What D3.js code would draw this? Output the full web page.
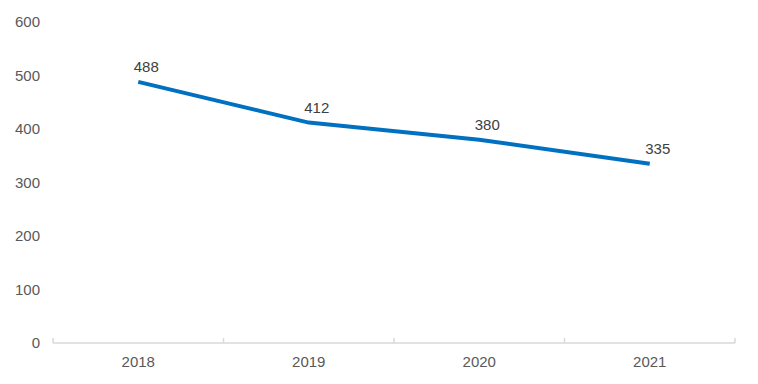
<html lang="en">
<head>
<title>Line chart</title>
<script src="https://d3js.org/d3.v7.min.js" charset="utf-8"></script>
<style>
  body { margin: 0; background: #fff; font-family: "Liberation Sans", Arial, sans-serif; }
  .tick text { fill: #595959; font-size: 15px; }
  .label { fill: #404040; font-size: 15px; }
</style>
</head>
<body>
<script>
// data
var years = ["2018", "2019", "2020", "2021"]
var values = [488, 412, 380, 335]
var yTicks = [0, 100, 200, 300, 400, 500, 600]

var width = 758
var height = 384
var margin = {top: 22, right: 23, bottom: 41, left: 53}

var svg = d3.select("body").append("svg")
  .attr("width", width)
  .attr("height", height)

var x = d3.scaleBand()
  .domain(years)
  .range([margin.left, width - margin.right])

var y = d3.scaleLinear()
  .domain([0, 600])
  .range([height - margin.bottom, margin.top])

// y axis labels only
var yAxis = svg.append("g")
  .attr("transform", "translate(" + (margin.left - 13) + ",0)")
  .call(d3.axisLeft(y).tickValues(yTicks).tickSize(0).tickPadding(0))
yAxis.select(".domain").remove()

// x axis: baseline with ticks at band edges
var xG = svg.append("g")
  .attr("transform", "translate(0," + y(0) + ")")
xG.append("line")
  .attr("x1", x.range()[0]).attr("x2", x.range()[1])
  .attr("stroke", "#d9d9d9").attr("stroke-width", 1.5)
var edges = years.map(function(d) { return x(d) }).concat([x.range()[1]])
xG.selectAll(".edge").data(edges).enter().append("line")
  .attr("class", "edge")
  .attr("x1", function(d) { return d }).attr("x2", function(d) { return d })
  .attr("y1", 0).attr("y2", -5)
  .attr("stroke", "#d9d9d9").attr("stroke-width", 1.5)
xG.selectAll(".tick").data(years).enter().append("g")
  .attr("class", "tick")
  .append("text")
  .attr("x", function(d) { return x(d) + x.bandwidth() / 2 })
  .attr("y", 24)
  .attr("text-anchor", "middle")
  .text(function(d) { return d })

var pts = years.map(function(d, i) { return {year: d, value: values[i]} })

var line = d3.line()
  .x(function(d) { return x(d.year) + x.bandwidth() / 2 })
  .y(function(d) { return y(d.value) })

svg.append("path")
  .datum(pts)
  .attr("fill", "none")
  .attr("stroke", "#0070c0")
  .attr("stroke-width", 4)
  .attr("stroke-linejoin", "round")
  .attr("d", line)

svg.selectAll(".label").data(pts).enter().append("text")
  .attr("class", "label")
  .attr("x", function(d) { return x(d.year) + x.bandwidth() / 2 + 8 })
  .attr("y", function(d) { return y(d.value) - 10 })
  .attr("text-anchor", "middle")
  .text(function(d) { return d.value })
</script>
</body>
</html>
